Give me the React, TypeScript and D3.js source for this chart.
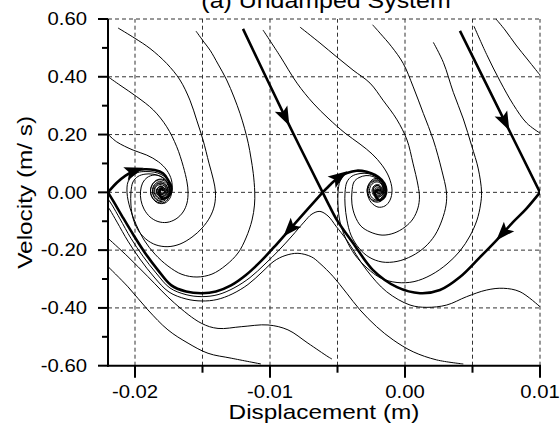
import { useRef, useEffect } from 'react';
import * as d3 from 'd3';

type Pt = [number, number];

// axes
const xDomain: [number, number] = [-0.022, 0.01];
const yDomain: [number, number] = [-0.6, 0.6];
const xGrid = [-0.02, -0.015, -0.01, -0.005, 0, 0.005, 0.01];
const xMajor = [-0.02, -0.01, 0, 0.01];
const xTickLabels = ['-0.02', '-0.01', '0.00', '0.01'];
const yGrid = [-0.4, -0.2, 0, 0.2, 0.4, 0.6];
const yMinor = [-0.5, -0.3, -0.1, 0.1, 0.3, 0.5];
const yMajor = [-0.6, -0.4, -0.2, 0, 0.2, 0.4, 0.6];
const yTickLabels = ['-0.60', '-0.40', '-0.20', '0.00', '0.20', '0.40', '0.60'];

// separatrices (thick), [displacement m, velocity m/s]
const sepIn1: Pt[] = [[-0.012, 0.566], [-0.00889, 0.262], [-0.0061, 0]];
const sepIn2: Pt[] = [[0.00407, 0.559], [0.0074, 0.245], [0.01, 0]];
const sepOutR: Pt[] = [
  [-0.0061, 0], [-0.00548, 0.029], [-0.00489, 0.053], [-0.0043, 0.067], [-0.00358, 0.075],
  [-0.00284, 0.071], [-0.00222, 0.06], [-0.00173, 0.043], [-0.00143, 0.019], [-0.00141, -0.003],
  [-0.00161, -0.021], [-0.0019, -0.027], [-0.00215, -0.017], [-0.00222, -0.003], [-0.00205, 0.008],
  [-0.00185, 0.004],
];
const sepOutL: Pt[] = [
  [-0.022, 0], [-0.02133, 0.034], [-0.0207, 0.058], [-0.02007, 0.074], [-0.01928, 0.08],
  [-0.01854, 0.077], [-0.01793, 0.066], [-0.01756, 0.043], [-0.01731, 0.019], [-0.01736, -0.003],
  [-0.01761, -0.017], [-0.01793, -0.021], [-0.01817, -0.009], [-0.01817, 0.008], [-0.018, 0.013],
  [-0.01793, 0.004],
];
const sepLow1: Pt[] = [
  [-0.0061, 0], [-0.00726, -0.061], [-0.00852, -0.127], [-0.00963, -0.186], [-0.01067, -0.238],
  [-0.01178, -0.286], [-0.01289, -0.322], [-0.014, -0.343], [-0.01504, -0.349], [-0.01622, -0.343],
  [-0.01733, -0.321], [-0.0183, -0.269], [-0.01919, -0.214], [-0.02007, -0.151], [-0.02096, -0.082],
  [-0.02156, -0.034], [-0.022, 0],
];
const sepLow2: Pt[] = [
  [0.01, 0], [0.00896, -0.058], [0.008, -0.103], [0.00726, -0.141], [0.00679, -0.165],
  [0.00556, -0.224], [0.00407, -0.293], [0.00259, -0.338], [0.00111, -0.349], [-0.00059, -0.328],
  [-0.00237, -0.269], [-0.00385, -0.175], [-0.00504, -0.096], [-0.00563, -0.044], [-0.0061, 0],
];
const arrowAt = [1, 1, 2, 3, 2, 3];

// trajectories (thin)
const leftA: Pt[] = [
  [-0.02126, 0.569], [-0.02, 0.533], [-0.01889, 0.498], [-0.01765, 0.446], [-0.01667, 0.389],
  [-0.01593, 0.319], [-0.01543, 0.25], [-0.01496, 0.181], [-0.01452, 0.101], [-0.01419, 0.043],
  [-0.01404, 0.001], [-0.01411, -0.044], [-0.01444, -0.085], [-0.01504, -0.124], [-0.01578, -0.155],
  [-0.01667, -0.179], [-0.01756, -0.188], [-0.01844, -0.182], [-0.01919, -0.162], [-0.01978, -0.13],
  [-0.02015, -0.089], [-0.0203, -0.044], [-0.0203, 0.001], [-0.02015, 0.036], [-0.01978, 0.055],
  [-0.01926, 0.063], [-0.01867, 0.063], [-0.01815, 0.056], [-0.01774, 0.043], [-0.01748, 0.022],
  [-0.01744, -0.002], [-0.01767, -0.023], [-0.01807, -0.032], [-0.01848, -0.023], [-0.0187, -0.002],
  [-0.01863, 0.022], [-0.0183, 0.036], [-0.01785, 0.034], [-0.01759, 0.015], [-0.01767, -0.008],
  [-0.018, -0.016], [-0.01833, -0.008], [-0.01837, 0.011], [-0.01811, 0.022], [-0.01781, 0.013],
  [-0.01781, -0.002], [-0.01807, -0.006], [-0.01819, 0.006], [-0.018, 0.011],
];
const leftB: Pt[] = [
  [-0.01548, 0.558], [-0.01489, 0.52], [-0.01444, 0.492], [-0.01385, 0.444], [-0.01321, 0.389],
  [-0.01267, 0.33], [-0.01222, 0.273], [-0.01189, 0.222], [-0.01161, 0.17], [-0.01141, 0.119],
  [-0.01124, 0.066], [-0.01113, 0.001], [-0.01115, -0.044], [-0.01133, -0.096], [-0.01178, -0.158],
  [-0.01237, -0.21], [-0.01326, -0.252], [-0.0143, -0.283], [-0.01541, -0.293], [-0.01652, -0.284],
  [-0.01756, -0.255], [-0.01852, -0.214], [-0.01933, -0.165], [-0.01993, -0.11], [-0.02037, -0.054],
  [-0.02059, -0.002], [-0.02052, 0.036], [-0.02022, 0.056], [-0.01978, 0.069], [-0.01919, 0.072],
  [-0.01859, 0.07], [-0.01807, 0.062], [-0.01767, 0.048], [-0.01744, 0.025], [-0.01741, -0.001],
  [-0.01756, -0.023], [-0.01785, -0.035], [-0.01833, -0.034], [-0.01874, -0.016], [-0.01885, 0.008],
  [-0.01867, 0.03], [-0.01826, 0.043], [-0.01781, 0.039], [-0.01752, 0.02], [-0.01756, -0.004],
  [-0.01785, -0.02], [-0.01826, -0.018], [-0.01852, -0.002], [-0.01848, 0.017], [-0.01815, 0.027],
  [-0.01778, 0.02], [-0.01774, 0.001], [-0.018, -0.008], [-0.01826, -0.001], [-0.01822, 0.013],
  [-0.01796, 0.015], [-0.01789, 0.004],
];
const leftC: Pt[] = [
  [-0.022, 0.4], [-0.02111, 0.371], [-0.01987, 0.331], [-0.01864, 0.285], [-0.01765, 0.227],
  [-0.01691, 0.158], [-0.01642, 0.089], [-0.01615, 0.036], [-0.01607, 0.001], [-0.01615, -0.037],
  [-0.01644, -0.068], [-0.01696, -0.092], [-0.01763, -0.104], [-0.0183, -0.101], [-0.01889, -0.085],
  [-0.01933, -0.058], [-0.01956, -0.027], [-0.01959, 0.004], [-0.01944, 0.032], [-0.01911, 0.051],
  [-0.01859, 0.06], [-0.01807, 0.055], [-0.0177, 0.041], [-0.01748, 0.018], [-0.01752, -0.006],
  [-0.01781, -0.023], [-0.01826, -0.027], [-0.01859, -0.013], [-0.01867, 0.01], [-0.01841, 0.029],
  [-0.018, 0.032], [-0.0177, 0.018], [-0.0177, -0.002], [-0.018, -0.015], [-0.01833, -0.009],
  [-0.01841, 0.008], [-0.01815, 0.02], [-0.01785, 0.013], [-0.01785, -0.001], [-0.01807, -0.004],
  [-0.01811, 0.008], [-0.01793, 0.008],
];
const leftD: Pt[] = [
  [-0.022, 0.201], [-0.02136, 0.175], [-0.02013, 0.146], [-0.01913, 0.129], [-0.01827, 0.106],
  [-0.01765, 0.077], [-0.0173, 0.043], [-0.01726, 0.008], [-0.01741, -0.02], [-0.01778, -0.037],
  [-0.0183, -0.037], [-0.0187, -0.02], [-0.01885, 0.004], [-0.0187, 0.029], [-0.01833, 0.044],
  [-0.01785, 0.044], [-0.01752, 0.027], [-0.01741, 0.004], [-0.01759, -0.016], [-0.018, -0.025],
  [-0.01841, -0.016], [-0.01859, 0.004], [-0.01844, 0.024], [-0.01807, 0.032], [-0.0177, 0.024],
  [-0.01759, 0.004], [-0.01781, -0.011], [-0.01819, -0.011], [-0.01837, 0.004], [-0.01822, 0.018],
  [-0.01789, 0.018], [-0.01778, 0.004], [-0.018, -0.002], [-0.01815, 0.006], [-0.01796, 0.01],
];
const rightC: Pt[] = [
  [-0.01052, 0.562], [-0.00926, 0.472], [-0.008, 0.378], [-0.00681, 0.309], [-0.0057, 0.257],
  [-0.00444, 0.205], [-0.00333, 0.167], [-0.00244, 0.133], [-0.0017, 0.094], [-0.00119, 0.053],
  [-0.00096, 0.008], [-0.00111, -0.027], [-0.00148, -0.047], [-0.002, -0.051], [-0.00252, -0.034],
  [-0.00278, -0.006], [-0.00274, 0.022], [-0.00244, 0.043], [-0.002, 0.048], [-0.00167, 0.036],
  [-0.00156, 0.011], [-0.00174, -0.011], [-0.00207, -0.016], [-0.00233, -0.002], [-0.0023, 0.017],
  [-0.002, 0.024], [-0.00178, 0.011], [-0.00189, -0.001], [-0.00207, 0.004], [-0.00193, 0.01],
];
const rightB: Pt[] = [
  [-0.00778, 0.572], [-0.0063, 0.517], [-0.00504, 0.468], [-0.00385, 0.423], [-0.00259, 0.378],
  [-0.00163, 0.319], [-0.00059, 0.251], [0.00015, 0.181], [0.00059, 0.101], [0.00096, 0.025],
  [0.00107, -0.016], [0.00096, -0.054], [0.00059, -0.092], [0, -0.12], [-0.00081, -0.141],
  [-0.0017, -0.148], [-0.00259, -0.137], [-0.00326, -0.117], [-0.0037, -0.082], [-0.00393, -0.04],
  [-0.00393, 0.001], [-0.00378, 0.036], [-0.00341, 0.051], [-0.00289, 0.058], [-0.00237, 0.055],
  [-0.00196, 0.043], [-0.00167, 0.025], [-0.00156, 0.004], [-0.0017, -0.016], [-0.002, -0.027],
  [-0.00241, -0.02], [-0.00263, 0.001], [-0.00252, 0.024], [-0.00215, 0.036], [-0.00178, 0.03],
  [-0.00163, 0.011], [-0.00178, -0.006], [-0.00207, -0.009], [-0.00226, 0.004], [-0.00211, 0.018],
  [-0.00185, 0.015], [-0.00181, 0.003],
];
const rightA: Pt[] = [
  [-0.0024, 0.58], [-0.00185, 0.551], [-0.00099, 0.504], [-0.00013, 0.446], [0.00061, 0.365],
  [0.00136, 0.273], [0.0021, 0.181], [0.00272, 0.077], [0.00307, 0.001], [0.00304, -0.044],
  [0.00274, -0.096], [0.00222, -0.148], [0.00148, -0.189], [0.00052, -0.22], [-0.00059, -0.239],
  [-0.0017, -0.241], [-0.00267, -0.224], [-0.00341, -0.193], [-0.004, -0.148], [-0.0043, -0.096],
  [-0.00444, -0.044], [-0.00444, 0.001], [-0.0043, 0.036], [-0.00393, 0.056], [-0.00333, 0.065],
  [-0.00274, 0.065], [-0.00222, 0.056], [-0.00181, 0.041], [-0.00156, 0.02], [-0.00152, -0.002],
  [-0.00174, -0.023], [-0.00215, -0.03], [-0.00256, -0.021], [-0.00274, 0.001], [-0.00263, 0.025],
  [-0.00226, 0.039], [-0.00185, 0.037], [-0.00163, 0.018], [-0.0017, -0.004], [-0.002, -0.013],
  [-0.0023, -0.004], [-0.00233, 0.013], [-0.00207, 0.024], [-0.00178, 0.017], [-0.00174, 0.001],
  [-0.00196, -0.004], [-0.00207, 0.006], [-0.00193, 0.011],
];
const rightD: Pt[] = [
  [0.0021, 0.519], [0.00284, 0.45], [0.00358, 0.346], [0.00432, 0.254], [0.00494, 0.161],
  [0.00543, 0.081], [0.00567, 0.001], [0.00559, -0.044], [0.00533, -0.096], [0.00481, -0.151],
  [0.00407, -0.203], [0.00311, -0.248], [0.00193, -0.286], [0.00067, -0.309], [-0.00059, -0.312],
  [-0.00178, -0.297], [-0.00281, -0.262], [-0.0037, -0.217], [-0.00437, -0.162], [-0.00481, -0.103],
  [-0.00496, -0.047], [-0.00496, 0.001], [-0.00481, 0.039], [-0.00444, 0.062], [-0.00385, 0.072],
  [-0.00319, 0.074], [-0.00252, 0.067], [-0.002, 0.053], [-0.00163, 0.032], [-0.00144, 0.008],
  [-0.00152, -0.016], [-0.00185, -0.032], [-0.0023, -0.032], [-0.00267, -0.016], [-0.00281, 0.008],
  [-0.00263, 0.03], [-0.00222, 0.043], [-0.00178, 0.039], [-0.00156, 0.02], [-0.00159, -0.002],
  [-0.00189, -0.016], [-0.00226, -0.013], [-0.00244, 0.004], [-0.0023, 0.022], [-0.00196, 0.027],
  [-0.0017, 0.013], [-0.00178, -0.002], [-0.00207, -0.004], [-0.00215, 0.01], [-0.00193, 0.015],
  [-0.00185, 0.004],
];
const rightE: Pt[] = [
  [0.00511, 0.575], [0.00605, 0.477], [0.00704, 0.385], [0.00802, 0.304], [0.00901, 0.24], [0.01, 0.205],
];
const rightF: Pt[] = [
  [0.00674, 0.6], [0.00741, 0.562], [0.00822, 0.51], [0.00911, 0.458], [0.01, 0.406],
];
const lowW: Pt[] = [
  [0.01, -0.396], [0.00852, -0.344], [0.00728, -0.332], [0.00605, -0.338], [0.00457, -0.361],
  [0.00309, -0.39], [0.00161, -0.398], [0.00037, -0.39], [-0.00136, -0.344], [-0.00284, -0.269],
  [-0.00432, -0.165], [-0.00511, -0.117], [-0.0057, -0.082], [-0.0063, -0.066], [-0.00689, -0.075],
  [-0.00748, -0.103], [-0.00837, -0.151], [-0.00933, -0.2], [-0.01037, -0.248], [-0.01148, -0.295],
  [-0.01267, -0.331], [-0.01385, -0.354], [-0.01504, -0.361], [-0.01622, -0.354], [-0.01741, -0.331],
  [-0.01844, -0.279], [-0.01941, -0.221], [-0.0203, -0.159], [-0.02111, -0.092], [-0.0217, -0.044],
  [-0.022, -0.023],
];
const lowZ: Pt[] = [
  [0.00432, -0.594], [0.00235, -0.58], [0.00061, -0.552], [-0.00087, -0.511], [-0.0021, -0.465],
  [-0.00333, -0.407], [-0.00432, -0.349], [-0.00531, -0.292], [-0.0063, -0.246], [-0.00694, -0.223],
  [-0.00793, -0.211], [-0.00889, -0.219], [-0.0097, -0.238], [-0.01059, -0.276], [-0.01163, -0.319],
  [-0.01281, -0.352], [-0.01393, -0.371], [-0.01504, -0.376], [-0.01622, -0.369], [-0.01748, -0.345],
  [-0.01859, -0.293], [-0.01963, -0.231], [-0.02052, -0.169], [-0.02133, -0.103], [-0.02185, -0.061],
  [-0.022, -0.051],
];
const leftW: Pt[] = [
  [-0.00541, -0.577], [-0.0057, -0.569], [-0.00719, -0.522], [-0.00867, -0.476], [-0.01015, -0.459],
  [-0.01213, -0.465], [-0.01385, -0.471], [-0.01509, -0.453], [-0.01706, -0.384], [-0.01904, -0.292],
  [-0.02052, -0.223], [-0.022, -0.159],
];
const leftZ: Pt[] = [
  [-0.022, -0.257], [-0.02052, -0.327], [-0.01904, -0.407], [-0.01756, -0.476], [-0.01607, -0.522],
  [-0.01459, -0.557], [-0.01287, -0.574], [-0.01067, -0.594],
];

const FONT = 'Liberation Sans, Arial, Helvetica, sans-serif';
const SX = 1.16;

function App() {
  const svgRef = useRef<SVGSVGElement>(null);
  const width = 560;
  const height = 436;

  useEffect(() => {
    const margin = { top: 19, right: 20, bottom: 70.3, left: 108 };
    const svg = d3.select(svgRef.current);
    svg.selectAll('*').remove();

    const x = d3
      .scaleLinear()
      .domain(xDomain)
      .range([margin.left, width - margin.right]);
    const y = d3
      .scaleLinear()
      .domain(yDomain)
      .range([height - margin.bottom, margin.top]);

    const x0 = x.range()[0];
    const x1 = x.range()[1];
    const y0 = y.range()[0];
    const y1 = y.range()[1];

    svg
      .append('defs')
      .append('clipPath')
      .attr('id', 'plot-clip')
      .append('rect')
      .attr('x', x0)
      .attr('y', y1)
      .attr('width', x1 - x0)
      .attr('height', y0 - y1);

    // dashed grid
    const grid = svg.append('g').attr('stroke', '#333').attr('stroke-width', 1).attr('stroke-dasharray', '4,3');
    grid
      .selectAll('line.gx')
      .data(xGrid)
      .join('line')
      .attr('x1', (d) => x(d))
      .attr('x2', (d) => x(d))
      .attr('y1', y0)
      .attr('y2', y1);
    grid
      .selectAll('line.gy')
      .data(yGrid)
      .join('line')
      .attr('x1', x0)
      .attr('x2', x1)
      .attr('y1', (d) => y(d))
      .attr('y2', (d) => y(d));

    const line = d3
      .line<Pt>()
      .x((d) => x(d[0]))
      .y((d) => y(d[1]))
      .curve(d3.curveCatmullRom.alpha(0.5));

    const plot = svg.append('g').attr('clip-path', 'url(#plot-clip)');

    const thin = [leftA, leftB, leftC, leftD, rightC, rightB, rightA, rightD, rightE, rightF, lowW, lowZ, leftW, leftZ];
    plot
      .selectAll('path.thin')
      .data(thin)
      .join('path')
      .attr('d', (d) => line(d))
      .attr('fill', 'none')
      .attr('stroke', '#000')
      .attr('stroke-width', 1);

    const thick = [sepIn1, sepIn2, sepOutR, sepOutL, sepLow1, sepLow2];
    plot
      .selectAll('path.thick')
      .data(thick)
      .join('path')
      .attr('d', (d) => line(d))
      .attr('fill', 'none')
      .attr('stroke', '#000')
      .attr('stroke-width', 2.6)
      .attr('stroke-linejoin', 'round');

    // arrow heads along the separatrices
    thick.forEach((pts, i) => {
      const k = arrowAt[i];
      const p = pts[k];
      const a = pts[k - 1];
      const b = pts[k + 1];
      const ang = (Math.atan2(y(b[1]) - y(a[1]), x(b[0]) - x(a[0])) * 180) / Math.PI;
      svg
        .append('path')
        .attr('d', 'M10,0 L-9,-7 L-5,0 L-9,7 Z')
        .attr('fill', '#000')
        .attr('transform', `translate(${x(p[0])},${y(p[1])}) rotate(${ang})`);
    });

    // axes
    svg
      .append('line')
      .attr('x1', x0)
      .attr('x2', x0)
      .attr('y1', y1)
      .attr('y2', y0 + 1)
      .attr('stroke', '#000')
      .attr('stroke-width', 2);
    svg
      .append('line')
      .attr('x1', x0 - 1)
      .attr('x2', x1 + 1)
      .attr('y1', y0)
      .attr('y2', y0)
      .attr('stroke', '#000')
      .attr('stroke-width', 2);

    const ticks = svg.append('g').attr('stroke', '#000').attr('stroke-width', 2);
    ticks
      .selectAll('line.ym')
      .data(yMajor)
      .join('line')
      .attr('x1', x0 - 10)
      .attr('x2', x0)
      .attr('y1', (d) => y(d))
      .attr('y2', (d) => y(d));
    ticks
      .selectAll('line.yn')
      .data(yMinor)
      .join('line')
      .attr('x1', x0 - 6)
      .attr('x2', x0)
      .attr('y1', (d) => y(d))
      .attr('y2', (d) => y(d));
    ticks
      .selectAll('line.xm')
      .data(xGrid)
      .join('line')
      .attr('x1', (d) => x(d))
      .attr('x2', (d) => x(d))
      .attr('y1', y0)
      .attr('y2', (d) => y0 + (xMajor.some((m) => Math.abs(m - d) < 1e-9) ? 12 : 7));

    const text = (s: string, tx: number, ty: number, size: number, anchor: string, rot = 0) =>
      svg
        .append('text')
        .attr('transform', `translate(${tx},${ty}) rotate(${rot}) scale(${SX},1)`)
        .attr('text-anchor', anchor)
        .attr('font-family', FONT)
        .attr('font-size', size)
        .attr('fill', '#000')
        .text(s);

    yMajor.forEach((v, i) => text(yTickLabels[i], 87, y(v) + 6.3, 17.5, 'end'));
    xMajor.forEach((v, i) => text(xTickLabels[i], x(v), 398, 17.5, 'middle'));

    text('Displacement (m)', (x0 + x1) / 2, 419, 21, 'middle');
    text('Velocity (m/ s)', 32, (y0 + y1) / 2, 21, 'middle', -90);
    text('(a) Undamped System', 326, 8, 21.5, 'middle');
  }, []);

  return (
    <svg
      ref={svgRef}
      width={width}
      height={height}
      style={{ position: 'absolute', left: 0, top: 0, background: '#fff' }}
    ></svg>
  );
}

export default App;
